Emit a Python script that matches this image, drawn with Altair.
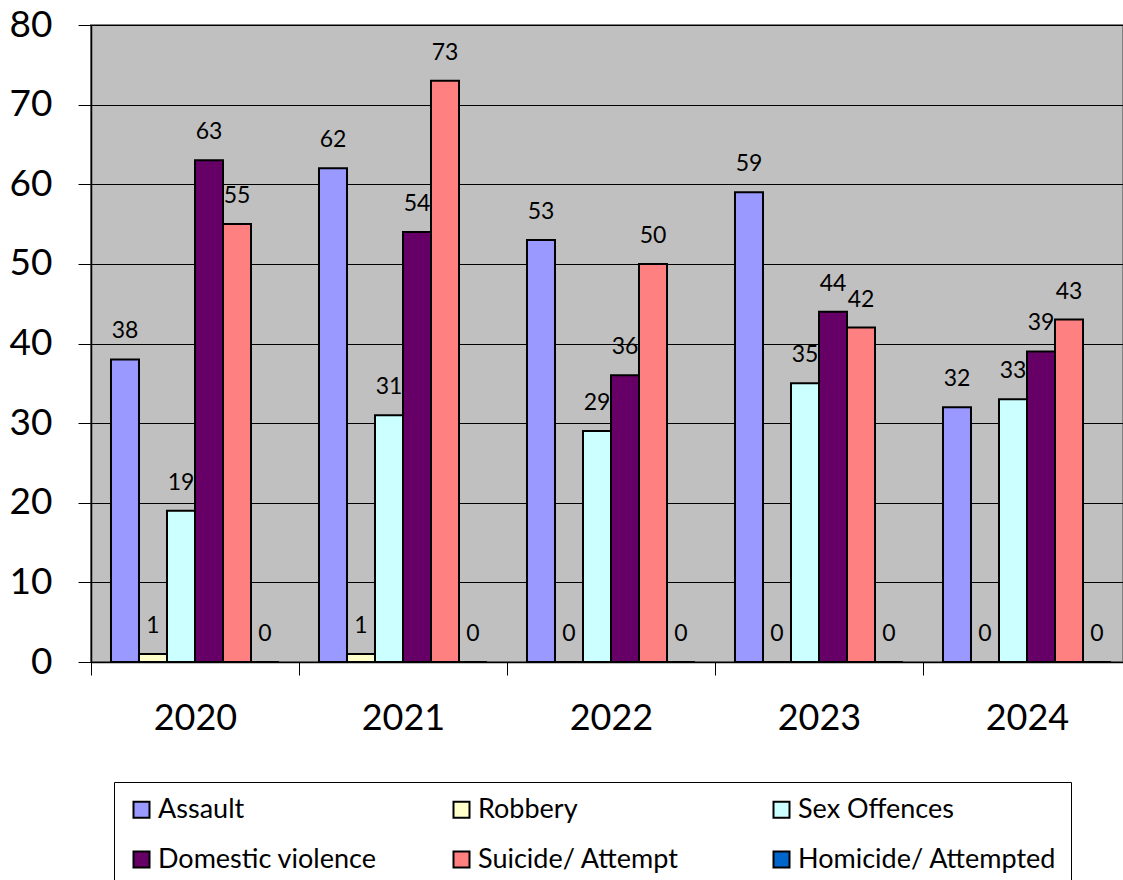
import altair as alt
import pandas as pd

years = ["2020", "2021", "2022", "2023", "2024"]
categories = ["Assault", "Robbery", "Sex Offences", "Domestic violence",
              "Suicide/ Attempt", "Homicide/ Attempted"]
colors = ["#9999FF", "#FFFFCC", "#CCFFFF", "#660066", "#FF8080", "#0066CC"]

assault = [38, 62, 53, 59, 32]
robbery = [1, 1, 0, 0, 0]
sex_offences = [19, 31, 29, 35, 33]
domestic_violence = [63, 54, 36, 44, 39]
suicide_attempt = [55, 73, 50, 42, 43]
homicide_attempted = [0, 0, 0, 0, 0]

series = [assault, robbery, sex_offences, domestic_violence,
          suicide_attempt, homicide_attempted]

rows = []
for cat, vals in zip(categories, series):
    for y, v in zip(years, vals):
        rows.append({"Year": y, "Category": cat, "Value": v})
df = pd.DataFrame(rows)

FONT = "Lato"

x_enc = alt.X("Year:N", sort=years,
              scale=alt.Scale(paddingInner=0, paddingOuter=0, range=[0, 1040]),
              axis=alt.Axis(title=None, labelAngle=0, labelFontSize=36,
                            labelFont=FONT, labelColor="black",
                            labelPadding=26, tickSize=13, tickBand="extent",
                            tickColor="black", domainColor="black",
                            domainWidth=1.5, grid=False))
xoff = alt.XOffset("Category:N", sort=categories,
                   scale=alt.Scale(paddingOuter=0.714, paddingInner=0))
y_enc = alt.Y("Value:Q",
              scale=alt.Scale(domain=[0, 80], nice=False),
              axis=alt.Axis(title=None, values=list(range(0, 81, 10)),
                            labelFontSize=37, labelFont=FONT,
                            labelColor="black", labelPadding=26,
                            tickSize=13, tickColor="black",
                            domainColor="black", domainWidth=1.5,
                            gridColor="black", gridWidth=1))

bars = alt.Chart(df).mark_bar(stroke="black", strokeWidth=2).encode(
    x=x_enc,
    xOffset=xoff,
    y=y_enc,
    color=alt.Color("Category:N", sort=categories,
                    scale=alt.Scale(domain=categories, range=colors),
                    legend=alt.Legend(
                        title=None, orient="none", legendX=23, legendY=757,
                        direction="horizontal", columns=3, gridAlign="all",
                        columnPadding=31, rowPadding=22, padding=14,
                        symbolOffset=0,
                        strokeColor="black", fillColor="white",
                        symbolType="square", symbolSize=256,
                        symbolStrokeColor="black", symbolStrokeWidth=2,
                        symbolOpacity=1,
                        labelFont=FONT, labelFontSize=27,
                        labelColor="black", labelOffset=3,
                        labelLimit=400)),
)

labels = alt.Chart(df).mark_text(
    baseline="middle", dy=-28, fontSize=23, font=FONT, color="black"
).encode(
    x=alt.X("Year:N", sort=years),
    xOffset=alt.XOffset("Category:N", sort=categories),
    y=alt.Y("Value:Q"),
    text=alt.Text("Value:Q"),
)

chart = alt.layer(bars, labels).properties(
    width=1032, height=637,
    autosize=alt.AutoSizeParams(type="none"),
    padding={"left": 91, "top": 25, "right": 0, "bottom": 218},
    background="white",
).configure_view(
    fill="#C0C0C0", stroke="#808080", strokeWidth=2
)

chart.save("out.html", embed_options={"renderer": "svg", "actions": False})
